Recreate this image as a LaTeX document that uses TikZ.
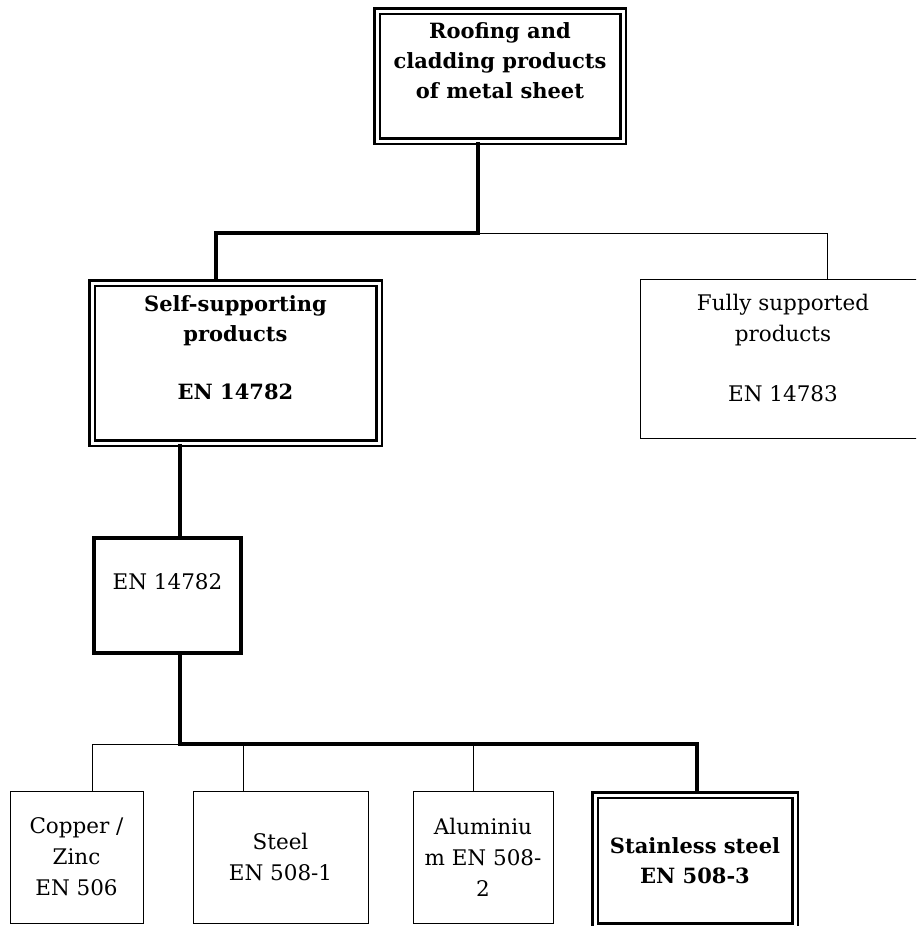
\documentclass[tikz,border=0pt]{standalone}
\usepackage{fontspec}
\setmainfont{DejaVu Serif}
\tikzset{
	plainbox/.style={draw, rectangle, line width=0.8pt, align=center, inner sep=0pt, font=\fontsize{21.5}{31}\selectfont},
	heavybox/.style={draw, rectangle, line width=3.5pt, align=center, inner sep=0pt, font=\fontsize{21.5}{31}\selectfont},
	dblbox/.style={draw, rectangle, double, line width=2.7pt, double distance=3pt, align=center, inner sep=0pt, font=\fontsize{21}{30}\selectfont\bfseries},
	trunk/.style={line width=3.5pt},
	twig/.style={line width=0.8pt}
}
\begin{document}
\begin{tikzpicture}[x=1pt, y=-1pt]
	\useasboundingbox (0,0) rectangle (916,926);
	\clip (0,0) rectangle (916,926);

	\node [dblbox, minimum width=246, minimum height=130] (root) at (500,76)
		{Roofing and\\cladding products\\of metal sheet\\\mbox{}};
	\node [dblbox, minimum width=287, minimum height=160] (self) at (235.5,363)
		{Self-supporting\\products\\[28pt]EN 14782\\\mbox{}};
	\node [plainbox, minimum width=286, minimum height=159] (full) at (783,358.5)
		{Fully supported\\products\\[29pt]EN 14783\\[-10pt]\mbox{}};
	\node [heavybox, minimum width=147, minimum height=115] (en) at (167.5,595.5)
		{EN 14782\\[-4pt]\mbox{}};

	\node [plainbox, minimum width=133, minimum height=132] (copper) at (76.5,857) {Copper /\\Zinc\\EN 506};
	\node [plainbox, minimum width=175, minimum height=132] (steel)  at (280.5,857) {Steel\\EN 508-1};
	\node [plainbox, minimum width=140, minimum height=132] (alu)    at (483,857) {Aluminiu\\m EN 508-\\2};
	\node [dblbox,   minimum width=200, minimum height=131] (stainless) at (695,860.5) {Stainless steel\\EN 508-3};

	% junctions
	\coordinate (hub)      at (478,233);
	\coordinate (selfdrop) at (216,233);
	\coordinate (fulldrop) at (827,233);
	\coordinate (spine)    at (180,744);
	\coordinate (cudrop)   at (92,744);
	\coordinate (fedrop)   at (243,744);
	\coordinate (aldrop)   at (473,744);
	\coordinate (ssdrop)   at (697,744);

	\draw [twig] (hub) -- (fulldrop) -- (fulldrop |- full.north);
	\foreach \d/\n in {cudrop/copper, fedrop/steel, aldrop/alu}
		\draw [twig] (spine) -- (\d) -- (\d |- \n.north);

	\draw [trunk] (root.south -| hub) -- (hub) -- (selfdrop) -- (selfdrop |- self.north);
	\draw [trunk] (self.south -| spine) -- (spine |- en.north);
	\draw [trunk] (en.south -| spine) -- (spine) -- (ssdrop) -- (ssdrop |- stainless.north);
\end{tikzpicture}
\end{document}
